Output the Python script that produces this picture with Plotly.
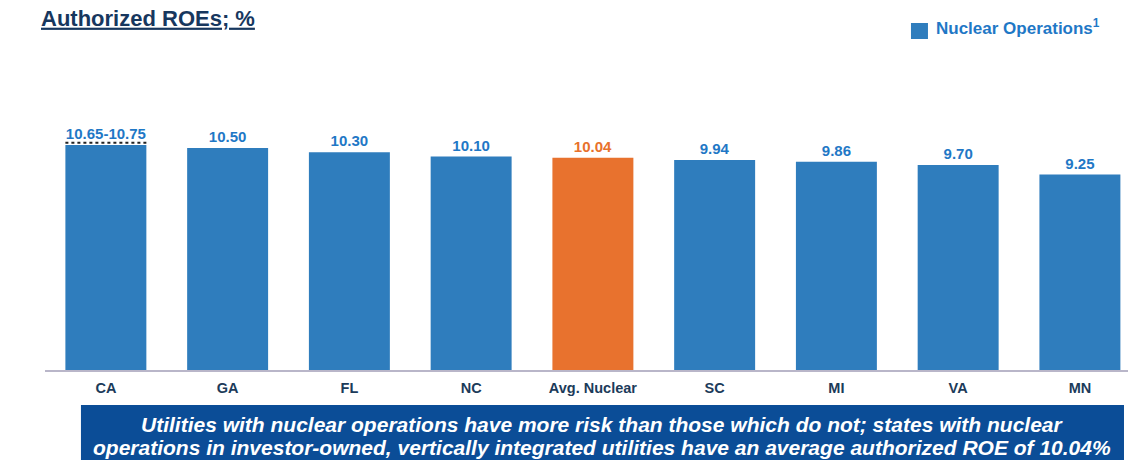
import plotly.graph_objects as go

# ---- data ----
categories = ["CA", "GA", "FL", "NC", "Avg. Nuclear", "SC", "MI", "VA", "MN"]
roe_values = [10.65, 10.50, 10.30, 10.10, 10.04, 9.94, 9.86, 9.70, 9.25]
value_labels = ["10.65-10.75", "10.50", "10.30", "10.10", "10.04", "9.94", "9.86", "9.70", "9.25"]
ca_range_high = 10.75
highlight_category = "Avg. Nuclear"
series_name = "Nuclear Operations<sup>1</sup>"
title_text = "Authorized ROEs; %"
banner_lines = [
    "Utilities with nuclear operations have more risk than those which do not; states with nuclear",
    "operations in investor-owned, vertically integrated utilities have an average authorized ROE of 10.04%",
]

# ---- styles ----
FONT = "Liberation Sans, Arial, sans-serif"
BLUE = "#2f7dbd"
BLUE_TXT = "#1f78c6"
ORANGE = "#e8722e"
ORANGE_TXT = "#e8712b"
NAVY = "#17375e"
BANNER = "#0b4d97"
BARGAP = 0.335

blue_x = [c for c in categories if c != highlight_category]
blue_y = [v for c, v in zip(categories, roe_values) if c != highlight_category]
blue_t = [t for c, t in zip(categories, value_labels) if c != highlight_category]
org_x = [c for c in categories if c == highlight_category]
org_y = [v for c, v in zip(categories, roe_values) if c == highlight_category]
org_t = [t for c, t in zip(categories, value_labels) if c == highlight_category]

fig = go.Figure()
fig.add_trace(go.Bar(
    x=blue_x, y=blue_y, text=blue_t, name="Nuclear Operations", showlegend=False,
    marker=dict(color=BLUE, line=dict(width=0)),
    textposition="outside", constraintext="none", cliponaxis=False,
    textfont=dict(family=FONT, size=15, color=BLUE_TXT, weight="bold"),
    texttemplate="%{text}", hoverinfo="x+y",
))
fig.add_trace(go.Bar(
    x=org_x, y=org_y, text=org_t, name="Avg. Nuclear", showlegend=False,
    marker=dict(color=ORANGE, line=dict(width=0)),
    textposition="outside", constraintext="none", cliponaxis=False,
    textfont=dict(family=FONT, size=15, color=ORANGE_TXT, weight="bold"),
    texttemplate="%{text}", hoverinfo="x+y",
))

half = (1 - BARGAP) / 2
ca_idx = 0
fig.add_shape(type="line", xref="x", yref="y",
              x0=ca_idx - half, x1=ca_idx + half, y0=ca_range_high, y1=ca_range_high,
              line=dict(color="#222222", width=2, dash="dot"))

# legend (manual, to match the larger swatch)
fig.add_shape(type="rect", xref="paper", yref="paper",
              x0=0.7996, x1=0.8153, y0=1.0677, y1=1.1194,
              fillcolor=BLUE, line=dict(width=0))
fig.add_annotation(xref="paper", yref="paper", x=0.8209, y=1.1065,
                   text=series_name, showarrow=False, xanchor="left", yanchor="middle",
                   font=dict(family=FONT, size=17, color=BLUE_TXT, weight="bold"))

# banner
fig.add_shape(type="rect", xref="paper", yref="paper",
              x0=0.0332, x1=0.9963, y0=-0.1129, y1=-0.32,
              fillcolor=BANNER, line=dict(width=0), layer="above")
for i, line in enumerate(banner_lines):
    fig.add_annotation(xref="paper", yref="paper", x=0.5145, y=-0.1742 - i * 0.0742,
                       text="<i>" + line + "</i>", showarrow=False,
                       xanchor="center", yanchor="middle", align="center",
                       font=dict(family=FONT, size=21, color="white", weight="bold",
                                 style="italic"))

fig.update_layout(
    width=1128, height=460,
    margin=dict(l=45, r=0, t=60, b=90),
    paper_bgcolor="white", plot_bgcolor="white",
    barmode="overlay", bargap=BARGAP,
    font=dict(family=FONT),
    title=dict(text='<span style="text-decoration:underline">' + title_text + '</span>',
               x=41 / 1128, xanchor="left", y=1 - 18 / 460, yanchor="middle",
               font=dict(family=FONT, size=22, color=NAVY, weight="bold")),
    showlegend=False,
    xaxis=dict(type="category", categoryorder="array", categoryarray=categories,
               range=[-0.5, 8.395], showline=True, linecolor="#b9b6c9", linewidth=1.5,
               showgrid=False, zeroline=False, ticks="", ticklabelstandoff=4,
               tickfont=dict(family=FONT, size=14.5, color="#1c3b5a", weight="bold")),
    yaxis=dict(range=[0, 14.67], visible=False, showgrid=False, zeroline=False),
)

fig.write_html("out.html")
